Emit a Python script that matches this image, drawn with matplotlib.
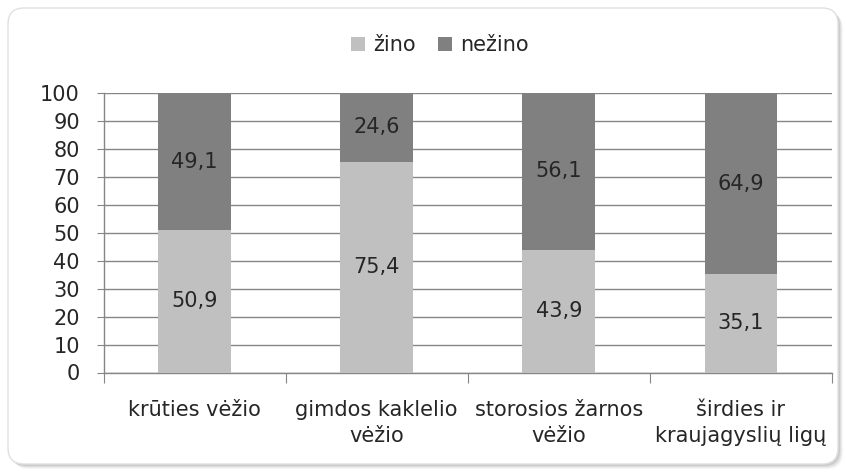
import matplotlib
matplotlib.use("Agg")
import matplotlib.pyplot as plt
from matplotlib.patches import FancyBboxPatch
from matplotlib.transforms import Affine2D
import numpy as np

categories = ["krūties vėžio", "gimdos kaklelio\nvėžio", "storosios žarnos\nvėžio", "širdies ir\nkraujagyslių ligų"]
zino = [50.9, 75.4, 43.9, 35.1]
nezino = [49.1, 24.6, 56.1, 64.9]
series_names = ["žino", "nežino"]
yticks = list(range(0, 101, 10))

plt.rcParams["font.family"] = ["DejaVu Sans"]
FS = 15
TXT = "#262626"
LIGHT = "#c0c0c0"
DARK = "#808080"
AXC = "#868686"

W, H = 846, 472
fig = plt.figure(figsize=(W / 100, H / 100), dpi=100)
fig.patch.set_facecolor("white")

# frame drawn in pixel units so the corners stay circular
px = Affine2D().scale(1.0 / W, 1.0 / H) + fig.transFigure
for i, a in enumerate([0.035, 0.045, 0.06, 0.08]):
    off = 5 - i
    sh = FancyBboxPatch((8 + off, 8 - off), 830, 456,
                        boxstyle="round,pad=0,rounding_size=16", transform=px,
                        facecolor="black", edgecolor="none", alpha=a, zorder=0)
    fig.patches.append(sh)
frame = FancyBboxPatch((8, 8), 830, 456,
                       boxstyle="round,pad=0,rounding_size=16", transform=px,
                       facecolor="white", edgecolor="#e0e0e0", linewidth=1.0, zorder=1)
fig.patches.append(frame)

ax = fig.add_axes([103.5 / W, 1 - 372.5 / H, (832 - 103.5) / W, (372.5 - 93) / H])
ax.set_zorder(2)
ax.patch.set_alpha(0)

x = np.arange(len(categories))
b1 = ax.bar(x, zino, width=0.4, color=LIGHT, label=series_names[0], zorder=3)
b2 = ax.bar(x, nezino, width=0.4, bottom=zino, color=DARK, label=series_names[1], zorder=3)

for xi, v in zip(x, zino):
    ax.text(xi, v / 2, f"{v:.1f}".replace(".", ","), ha="center", va="center", fontsize=FS, color=TXT, zorder=4)
for xi, b, v in zip(x, zino, nezino):
    ax.text(xi, b + v / 2, f"{v:.1f}".replace(".", ","), ha="center", va="center", fontsize=FS, color=TXT, zorder=4)

ax.set_xlim(-0.5, len(categories) - 0.5)
ax.set_ylim(0, 100)
ax.set_yticks(yticks)
ax.tick_params(axis="y", length=5, color=AXC, labelsize=FS, labelcolor=TXT, pad=12)
ax.yaxis.grid(True, color=AXC, linewidth=1.0, zorder=1)
ax.set_axisbelow(True)

# category boundaries carry the x ticks; labels sit at centres
ax.set_xticks(np.arange(-0.5, len(categories), 1.0))
ax.set_xticklabels([])
ax.tick_params(axis="x", length=7, color=AXC)
ax.set_xticks(x, minor=True)
ax.set_xticklabels(categories, minor=True, fontsize=FS, color=TXT, linespacing=1.36)
ax.tick_params(axis="x", which="minor", length=0, pad=20)

for s in ["top", "right"]:
    ax.spines[s].set_visible(False)
for s in ["left", "bottom"]:
    ax.spines[s].set_color(AXC)
    ax.spines[s].set_linewidth(1.0)

fig.legend(handles=[b1, b2], labels=series_names, loc="center", bbox_to_anchor=(440 / W, 1 - 45 / H),
           ncol=2, frameon=False, fontsize=FS, handlelength=0.65, handleheight=0.65,
           handletextpad=0.4, columnspacing=1.1, labelcolor=TXT)

fig.savefig("out.png", dpi=100)
